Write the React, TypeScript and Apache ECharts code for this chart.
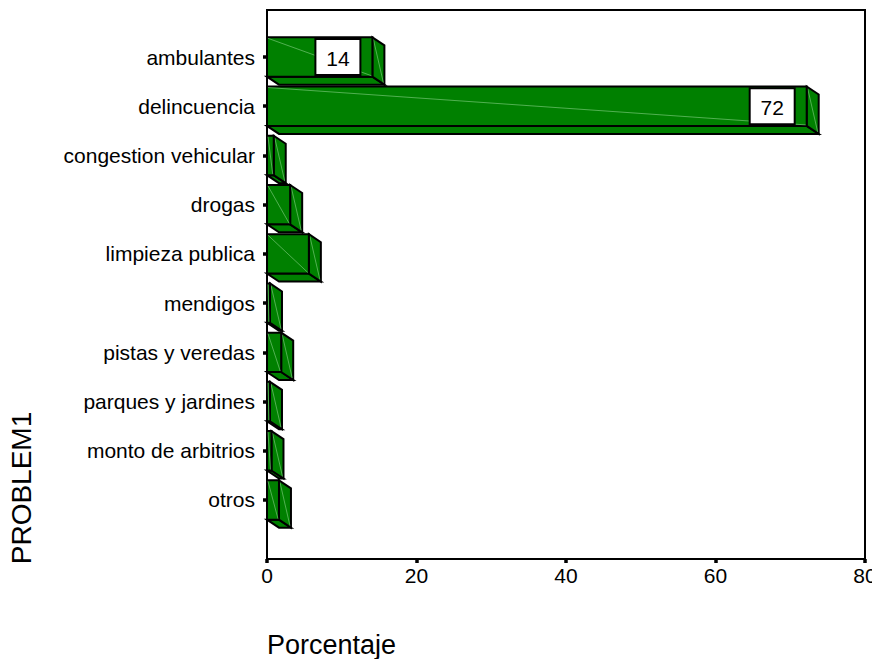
import React, { useEffect, useRef } from "react";
import * as echarts from "echarts";

const categories = [
  "ambulantes",
  "delincuencia",
  "congestion vehicular",
  "drogas",
  "limpieza publica",
  "mendigos",
  "pistas y veredas",
  "parques y jardines",
  "monto de arbitrios",
  "otros",
];
const percentages = [14.1, 72.2, 0.9, 3.1, 5.6, 0.4, 1.9, 0.4, 0.6, 1.6];
const barLabels = ["14", "72", "", "", "", "", "", "", "", ""];
const xMin = 0;
const xMax = 80;
const xInterval = 20;
const xTitle = "Porcentaje";
const yTitle = "PROBLEM1";

const FONT = "'Liberation Sans', Arial, Helvetica, sans-serif";
const GREEN = "#008000";
const EDGE = "#000000";
const DIAG = "rgba(170,230,170,0.6)";

export default function App() {
  const ref = useRef<HTMLDivElement>(null);
  useEffect(() => {
    if (!ref.current) return;
    const chart = echarts.init(ref.current, undefined, { renderer: "svg" });
    const data = percentages.map((v, i) => [i, v]);
    const option: any = {
      animation: false,
      backgroundColor: "#ffffff",
      grid: {
        left: 267,
        width: 598,
        top: 32.4,
        height: 492.2,
        containLabel: false,
        outerBoundsMode: "none",
      },
      xAxis: {
        type: "value",
        min: xMin,
        max: xMax,
        interval: xInterval,
        offset: 34.4,
        axisLine: { show: true, lineStyle: { color: EDGE, width: 2 } },
        axisTick: { show: true, length: 4, lineStyle: { color: EDGE, width: 3.5 } },
        axisLabel: { color: "#000", fontSize: 21, fontFamily: FONT, margin: 6, hideOverlap: false },
        splitLine: { show: false },
      },
      yAxis: {
        type: "category",
        data: categories,
        inverse: true,
        axisLine: { show: false },
        axisTick: { show: true, alignWithLabel: true, length: 4, lineStyle: { color: EDGE, width: 3.5 } },
        axisLabel: { color: "#000", fontSize: 21, fontFamily: FONT, margin: 12 },
        splitLine: { show: false },
      },
      graphic: [
        {
          type: "rect",
          shape: { x: 267, y: 10, width: 598, height: 549 },
          style: { fill: "none", stroke: EDGE, lineWidth: 2 },
          z: 1,
        },
        {
          type: "text",
          x: 267,
          y: 631,
          style: { text: xTitle, fontSize: 27, fontFamily: FONT, fill: "#000", textAlign: "left", textVerticalAlign: "top" },
        },
        {
          type: "text",
          x: 21,
          y: 488,
          rotation: Math.PI / 2,
          style: { text: yTitle, fontSize: 28, fontFamily: FONT, fill: "#000", textAlign: "center", textVerticalAlign: "middle" },
        },
      ],
      series: [
        {
          type: "custom",
          data,
          encode: { x: 1, y: 0 },
          z: 5,
          renderItem: (params: any, api: any) => {
            const i = api.value(0);
            const v = api.value(1);
            const s = api.coord([0, i]);
            const e = api.coord([v, i]);
            const band = api.size([0, 1])[1];
            const h = band * 0.8;
            const x0 = s[0];
            const x1 = e[0];
            const cy = e[1];
            const top = cy - h / 2;
            const bot = cy + h / 2;
            const dx = 12;
            const dy = 8;
            const edgeStyle = { stroke: EDGE, lineWidth: 2, lineJoin: "miter" };
            const children: any[] = [
              {
                type: "polygon",
                shape: { points: [[x0, bot], [x1, bot], [x1 + dx, bot + dy], [x0 + dx, bot + dy]] },
                style: { fill: GREEN, ...edgeStyle },
              },
              {
                type: "polygon",
                shape: { points: [[x1, top], [x1 + dx, top + dy], [x1 + dx, bot + dy], [x1, bot]] },
                style: { fill: GREEN, ...edgeStyle },
              },
              {
                type: "line",
                shape: { x1: x1 + 1, y1: top + 2, x2: x1 + dx - 1, y2: bot + dy - 2 },
                style: { stroke: DIAG, lineWidth: 0.8 },
              },
              {
                type: "rect",
                shape: { x: x0, y: top, width: Math.max(x1 - x0, 0), height: bot - top },
                style: { fill: GREEN, ...edgeStyle },
              },
              {
                type: "line",
                shape: { x1: x0 + 1, y1: top + 1, x2: x1 - 1, y2: bot - 1 },
                style: { stroke: DIAG, lineWidth: 0.8 },
              },
            ];
            const lbl = barLabels[params.dataIndex];
            if (lbl) {
              const bw = 45;
              const bh = 36;
              const bx = x1 - 12 - bw;
              const by = cy - bh / 2;
              children.push({
                type: "rect",
                shape: { x: bx, y: by, width: bw, height: bh },
                style: { fill: "#ffffff", stroke: EDGE, lineWidth: 2 },
              });
              children.push({
                type: "text",
                x: bx + bw / 2,
                y: cy + 1,
                style: { text: lbl, fontSize: 21, fontFamily: FONT, fill: "#000", textAlign: "center", textVerticalAlign: "middle" },
              });
            }
            return { type: "group", children };
          },
        },
      ],
    };
    chart.setOption(option);
    return () => chart.dispose();
  }, []);
  return (
    <div
      ref={ref}
      style={{ position: "fixed", left: 0, top: 0, width: 872, height: 659, background: "#fff" }}
    />
  );
}
